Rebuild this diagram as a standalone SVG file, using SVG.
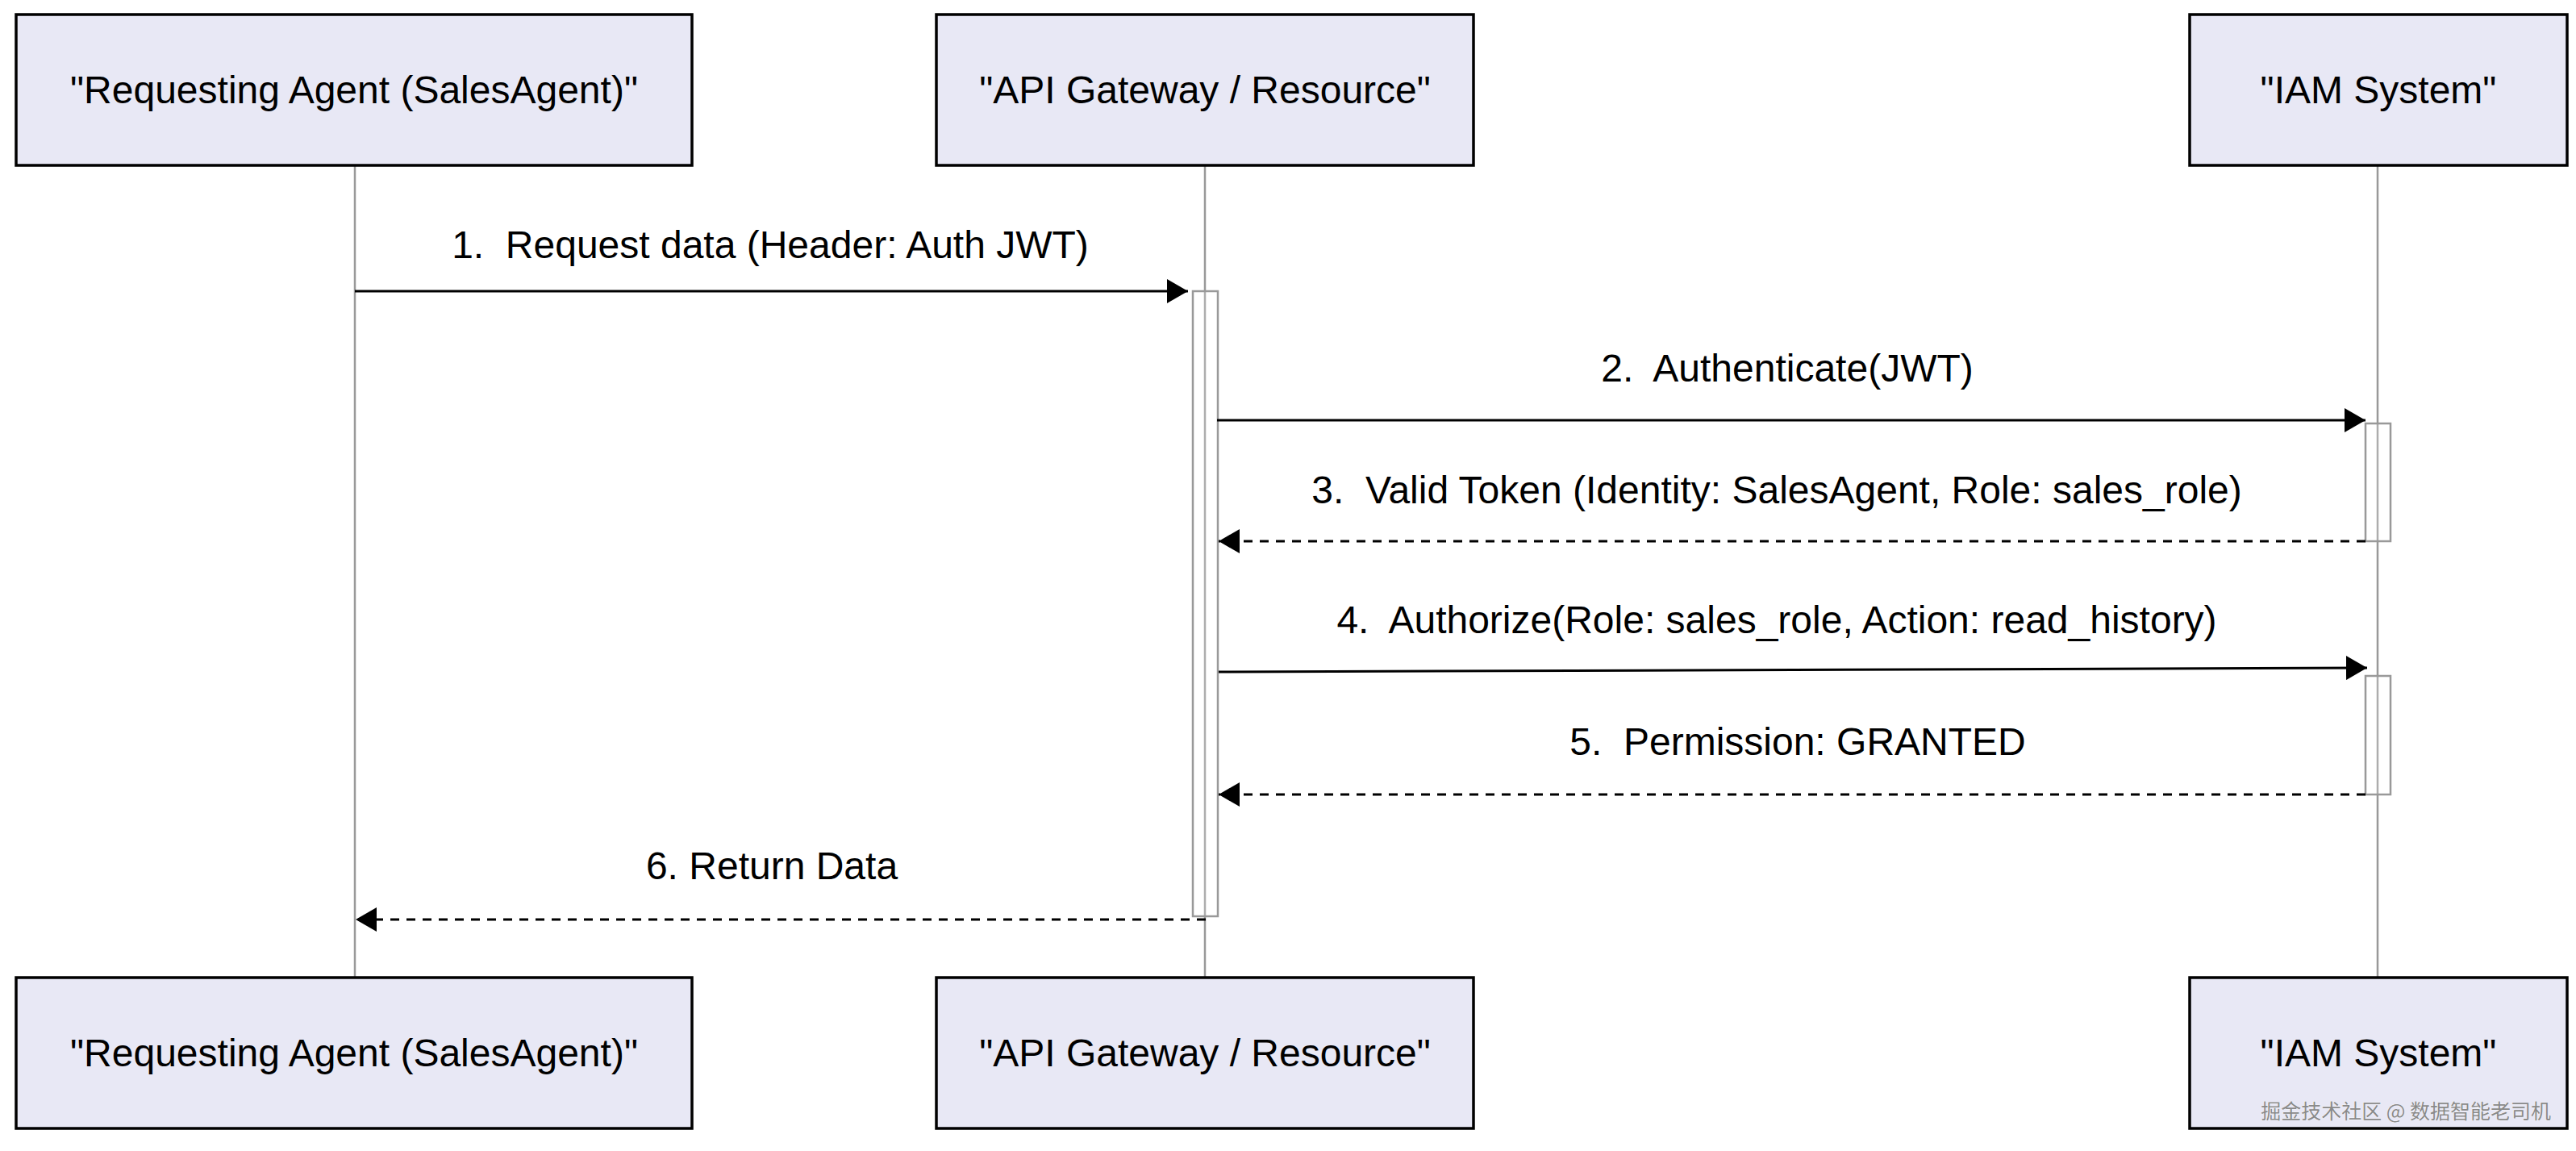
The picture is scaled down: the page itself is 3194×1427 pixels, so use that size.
<svg xmlns="http://www.w3.org/2000/svg" width="3194" height="1427" viewBox="0 0 3194 1427">
<style>
.actor{fill:#e8e8f5;stroke:#000;stroke-width:3.5}
.lbl{font-family:"Liberation Sans",Arial,sans-serif;font-size:48px;fill:#000;text-anchor:middle}
.life{stroke:#999;stroke-width:2.5;fill:none}
.act{fill:#fff;fill-opacity:0.2;stroke:#999;stroke-width:2.5}
.msg{stroke:#000;stroke-width:3;fill:none}
.dash{stroke-dasharray:11,9}
.wm{font-family:"Noto Sans CJK SC","Liberation Sans",sans-serif;font-size:25px;fill:#8a8a8a;stroke:#fff;stroke-width:0.6;paint-order:stroke}
</style>
<defs>
<marker id="ah" markerUnits="userSpaceOnUse" markerWidth="26" markerHeight="30" refX="26" refY="15" orient="auto">
<path d="M0,0 L26,15 L0,30 Z" fill="#000"/>
</marker>
</defs>
<rect width="3194" height="1427" fill="#fff"/>
<g id="lifelines">
<line class="life" x1="440" y1="205" x2="440" y2="1212"/>
<line class="life" x1="1494" y1="205" x2="1494" y2="1212"/>
<line class="life" x1="2948" y1="205" x2="2948" y2="1212"/>
</g>
<g id="actor-agent-top"><rect class="actor" x="20" y="18" width="838" height="187"/><text class="lbl" x="439" y="128">"Requesting Agent (SalesAgent)"</text></g>
<g id="actor-gateway-top"><rect class="actor" x="1161" y="18" width="666" height="187"/><text class="lbl" x="1494" y="128">"API Gateway / Resource"</text></g>
<g id="actor-iam-top"><rect class="actor" x="2715" y="18" width="468" height="187"/><text class="lbl" x="2949" y="128">"IAM System"</text></g>
<g id="actor-agent-bottom"><rect class="actor" x="20" y="1212" width="838" height="187"/><text class="lbl" x="439" y="1322">"Requesting Agent (SalesAgent)"</text></g>
<g id="actor-gateway-bottom"><rect class="actor" x="1161" y="1212" width="666" height="187"/><text class="lbl" x="1494" y="1322">"API Gateway / Resource"</text></g>
<g id="actor-iam-bottom"><rect class="actor" x="2715" y="1212" width="468" height="187"/><text class="lbl" x="2949" y="1322">"IAM System"</text></g>
<g id="activations">
<rect class="act" x="1479" y="361" width="31" height="775"/>
<rect class="act" x="2933" y="525" width="31" height="146"/>
<rect class="act" x="2933" y="838" width="31" height="147"/>
</g>
<g id="connectors">
<line class="msg" x1="440" y1="361" x2="1473" y2="361" marker-end="url(#ah)"/>
<line class="msg" x1="1509" y1="521" x2="2933" y2="521" marker-end="url(#ah)"/>
<line class="msg dash" x1="2933" y1="671" x2="1511" y2="671" marker-end="url(#ah)"/>
<line class="msg" x1="1511" y1="833" x2="2935" y2="828" marker-end="url(#ah)"/>
<line class="msg dash" x1="2933" y1="985" x2="1511" y2="985" marker-end="url(#ah)"/>
<line class="msg dash" x1="1495" y1="1140" x2="441" y2="1140" marker-end="url(#ah)"/>
</g>
<g id="labels">
<text class="lbl" x="955" y="320" xml:space="preserve">1.  Request data (Header: Auth JWT)</text>
<text class="lbl" x="2216" y="473" xml:space="preserve">2.  Authenticate(JWT)</text>
<text class="lbl" x="2203" y="624" xml:space="preserve">3.  Valid Token (Identity: SalesAgent, Role: sales_role)</text>
<text class="lbl" x="2203" y="785" xml:space="preserve">4.  Authorize(Role: sales_role, Action: read_history)</text>
<text class="lbl" x="2229" y="936" xml:space="preserve">5.  Permission: GRANTED</text>
<text class="lbl" x="957" y="1090">6. Return Data</text>
</g>
<text class="wm" x="3163" y="1387" text-anchor="end">掘金技术社区 @ 数据智能老司机</text>
</svg>
